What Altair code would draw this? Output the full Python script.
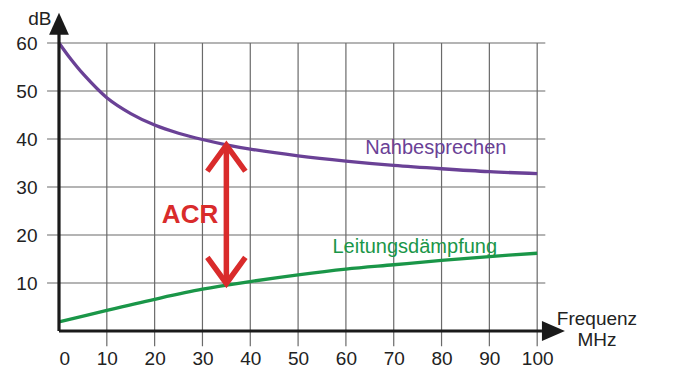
import altair as alt
import pandas as pd

# ---- data ----
next_x = [0, 2.5, 5, 10, 15, 20, 25, 30, 35, 40, 50, 60, 70, 80, 90, 100]
next_db = [60, 56.6, 53.6, 48.6, 45.3, 42.9, 41.2, 39.9, 38.8, 37.9, 36.5, 35.4, 34.5, 33.8, 33.2, 32.8]

att_x = [0, 10, 20, 30, 40, 50, 60, 70, 80, 90, 100]
att_db = [1.9, 4.3, 6.6, 8.7, 10.3, 11.7, 12.9, 13.8, 14.7, 15.5, 16.2]

x_ticks = [0, 10, 20, 30, 40, 50, 60, 70, 80, 90, 100]
y_ticks = [10, 20, 30, 40, 50, 60]

acr_freq = 35
acr_low = 9.9    # attenuation at 35 MHz
acr_high = 38.7  # NEXT at 35 MHz

PURPLE = "#6a4196"
GREEN = "#1a9648"
RED = "#d92b2b"
BLACK = "#1a1a1a"
GRID = "#6a6a6a"
FONT = "Liberation Sans"

X_DOMAIN = [0, 110]
Y_DOMAIN = [0, 66.67]

xs = alt.Scale(domain=X_DOMAIN, nice=False, zero=False)
ys = alt.Scale(domain=Y_DOMAIN, nice=False, zero=False)

curves = pd.DataFrame(
    [{"f": x, "db": y, "s": "Nahbesprechen"} for x, y in zip(next_x, next_db)]
    + [{"f": x, "db": y, "s": "Leitungsdämpfung"} for x, y in zip(att_x, att_db)]
)

hgrid = pd.DataFrame({"y": y_ticks, "x0": -2.5, "x1": 101.7})
vgrid = pd.DataFrame({"x": x_ticks[1:], "y0": -3.2, "y1": 60})

# horizontal grid (with left tick extension)
hg = alt.Chart(hgrid).mark_rule(color=GRID, strokeWidth=1.2).encode(
    x=alt.X("x0:Q", scale=xs,
            axis=alt.Axis(values=x_ticks, ticks=False, domain=False, grid=False,
                          labelPadding=18, labelFontSize=19, labelFont=FONT,
                          labelColor="#222", title=None)),
    x2="x1:Q",
    y=alt.Y("y:Q", scale=ys,
            axis=alt.Axis(values=y_ticks, ticks=False, domain=False, grid=False,
                          labelPadding=22, labelFontSize=19, labelFont=FONT,
                          labelColor="#222", title=None)),
)

vg = alt.Chart(vgrid).mark_rule(color=GRID, strokeWidth=1.2).encode(
    x=alt.X("x:Q", scale=xs), y=alt.Y("y0:Q", scale=ys), y2="y1:Q"
)

# axis lines with arrows
axes_df = pd.DataFrame({"x0": [0, 0], "x1": [101, 0], "y0": [0, 0], "y1": [0, 64]})
axl = alt.Chart(axes_df).mark_rule(color=BLACK, strokeWidth=3.2).encode(
    x=alt.X("x0:Q", scale=xs), x2="x1:Q", y=alt.Y("y0:Q", scale=ys), y2="y1:Q"
)
xhead = alt.Chart(pd.DataFrame({"x": [103.4], "y": [0]})).mark_point(
    shape="M1,0 L-1,-0.87 L-1,0.87 Z", size=529, filled=True, color=BLACK, opacity=1
).encode(x=alt.X("x:Q", scale=xs), y=alt.Y("y:Q", scale=ys))
yhead = alt.Chart(pd.DataFrame({"x": [0], "y": [64]})).mark_point(
    shape="M0,-1 L0.9,1 L-0.9,1 Z", size=484, filled=True, color=BLACK, opacity=1
).encode(x=alt.X("x:Q", scale=xs), y=alt.Y("y:Q", scale=ys))

# curves
lines = alt.Chart(curves).mark_line(strokeWidth=3.3, interpolate="catmull-rom").encode(
    x=alt.X("f:Q", scale=xs),
    y=alt.Y("db:Q", scale=ys),
    detail="s:N",
    color=alt.Color("s:N", scale=alt.Scale(domain=["Nahbesprechen", "Leitungsdämpfung"],
                                           range=[PURPLE, GREEN]), legend=None),
)

# ACR double arrow
acr_df = pd.DataFrame({"x": [acr_freq], "lo": [acr_low], "hi": [acr_high]})
shaft = alt.Chart(acr_df).mark_rule(color=RED, strokeWidth=5.5).encode(
    x=alt.X("x:Q", scale=xs), y=alt.Y("lo:Q", scale=ys), y2="hi:Q"
)
top_head = alt.Chart(acr_df).mark_point(
    shape="M-0.95,1.3 L0,0 L0.95,1.3", size=1600, filled=False, color=RED,
    strokeWidth=5.5, opacity=1, strokeJoin="miter"
).encode(x=alt.X("x:Q", scale=xs), y=alt.Y("hi:Q", scale=ys))
bot_head = alt.Chart(acr_df).mark_point(
    shape="M-0.95,-1.3 L0,0 L0.95,-1.3", size=1600, filled=False, color=RED,
    strokeWidth=5.5, opacity=1, strokeJoin="miter"
).encode(x=alt.X("x:Q", scale=xs), y=alt.Y("lo:Q", scale=ys))

# text annotations
labels = pd.DataFrame([
    {"x": 78.8, "y": 38.1, "t": "Nahbesprechen", "c": PURPLE, "w": "normal", "s": 20},
    {"x": 74.4, "y": 17.6, "t": "Leitungsdämpfung", "c": GREEN, "w": "normal", "s": 20},
    {"x": 27.4, "y": 24.2, "t": "ACR", "c": RED, "w": "bold", "s": 26},
    {"x": -4.0, "y": 65.1, "t": "dB", "c": "#222", "w": "normal", "s": 19},
    {"x": 112.5, "y": 2.5, "t": "Frequenz", "c": "#222", "w": "normal", "s": 19},
    {"x": 112.5, "y": -1.8, "t": "MHz", "c": "#222", "w": "normal", "s": 19},
])

texts = []
for w in ["normal", "bold"]:
    for s in sorted(labels["s"].unique()):
        sub = labels[(labels["w"] == w) & (labels["s"] == s)]
        if len(sub) == 0:
            continue
        texts.append(
            alt.Chart(sub).mark_text(font=FONT, fontSize=int(s), fontWeight=w,
                                     align="center", baseline="middle").encode(
                x=alt.X("x:Q", scale=xs), y=alt.Y("y:Q", scale=ys), text="t:N",
                color=alt.Color("c:N", scale=None)
            )
        )

chart = alt.layer(hg, vg, lines, axl, xhead, yhead, shaft, top_head, bot_head, *texts).properties(
    width=526, height=320,
    autosize=alt.AutoSizeParams(type="none"),
    padding={"left": 51, "top": 3, "right": 106, "bottom": 37},
).configure(background="white", view=alt.ViewConfig(stroke=None))

chart.save("out.html", embed_options={"renderer": "svg", "actions": False})
